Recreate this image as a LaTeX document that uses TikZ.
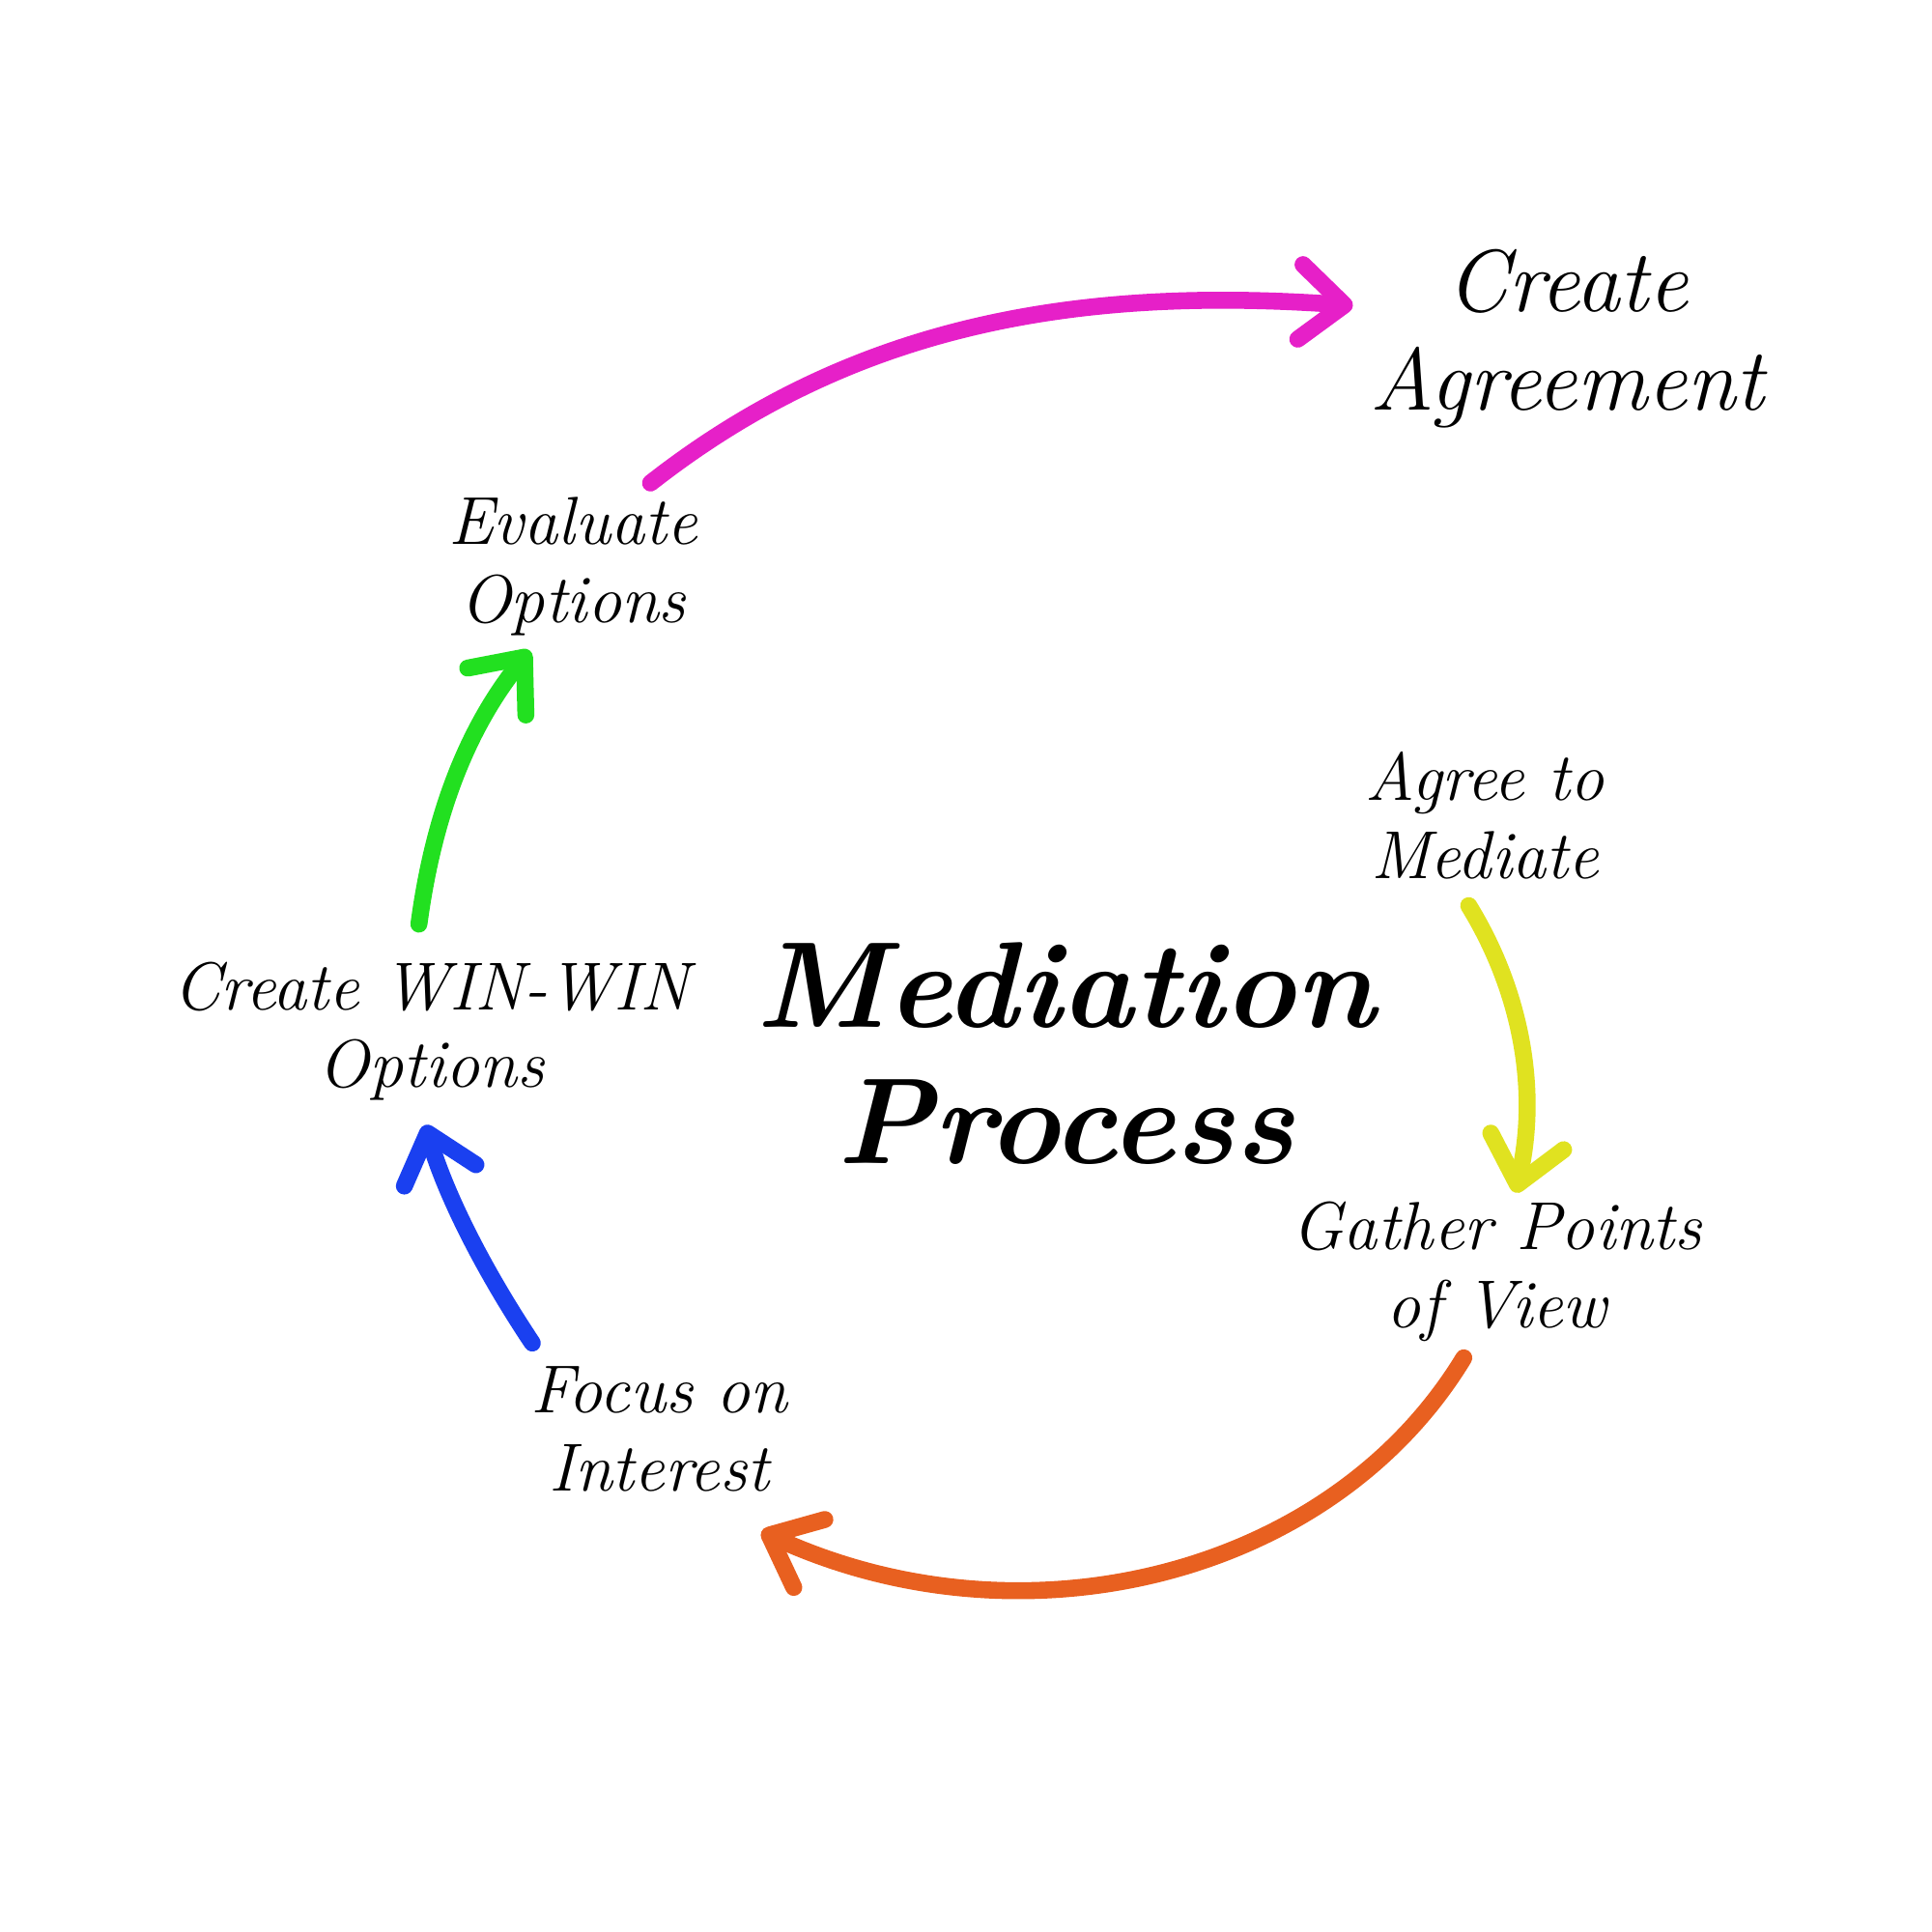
\documentclass[tikz,border=0pt]{standalone}
\usetikzlibrary{arrows.meta}
\begin{document}
\begin{tikzpicture}[x=0.012755cm,y=-0.012755cm,
  lbl/.style={font=\itshape\fontsize{20}{23}\selectfont,align=center,text=black},
  arr/.style={line width=5pt,line cap=round,-{Straight Barb[length=13pt,width=22pt,line width=5pt,round]}}]
\useasboundingbox (0,0) rectangle (1568,1568);
\fill[white] (0,0) rectangle (1568,1568);
\node[lbl,font=\itshape\bfseries\fontsize{36}{40}\selectfont] (mp) at (865,855) {Mediation\\Process};
\node[lbl,font=\itshape\fontsize{26}{29}\selectfont] (ca) at (1272,275) {Create\\Agreement};
\node[lbl] (eo) at (465,460) {Evaluate\\Options};
\node[lbl] (am) at (1205,662) {Agree to\\Mediate};
\node[lbl] (cw) at (350,837) {Create WIN-WIN\\Options};
\node[lbl] (gp) at (1215,1032) {Gather Points\\of View};
\node[lbl] (fi) at (535,1160) {Focus on\\Interest};
\coordinate (m1) at (528,392); \coordinate (m2) at (1098,248);
\coordinate (g1) at (340,750); \coordinate (g2) at (430,528);
\coordinate (y1) at (1192,735); \coordinate (y2) at (1230,968);
\coordinate (o1) at (1188,1102); \coordinate (o2) at (618,1243);
\coordinate (b1) at (432,1090); \coordinate (b2) at (345,913);
\draw[arr,draw={rgb,255:red,230;green,32;blue,200}] (m1) .. controls (690,265) and (870,232) .. (m2);
\draw[arr,draw={rgb,255:red,34;green,224;blue,32}] (g1) .. controls (352,660) and (380,590) .. (g2);
\draw[arr,draw={rgb,255:red,224;green,226;blue,32}] (y1) .. controls (1232,800) and (1250,880) .. (y2);
\draw[arr,draw={rgb,255:red,232;green,96;blue,32}] (o1) .. controls (1080,1280) and (830,1340) .. (o2);
\draw[arr,draw={rgb,255:red,26;green,64;blue,240}] (b1) .. controls (392,1030) and (362,970) .. (b2);
\end{tikzpicture}
\end{document}
